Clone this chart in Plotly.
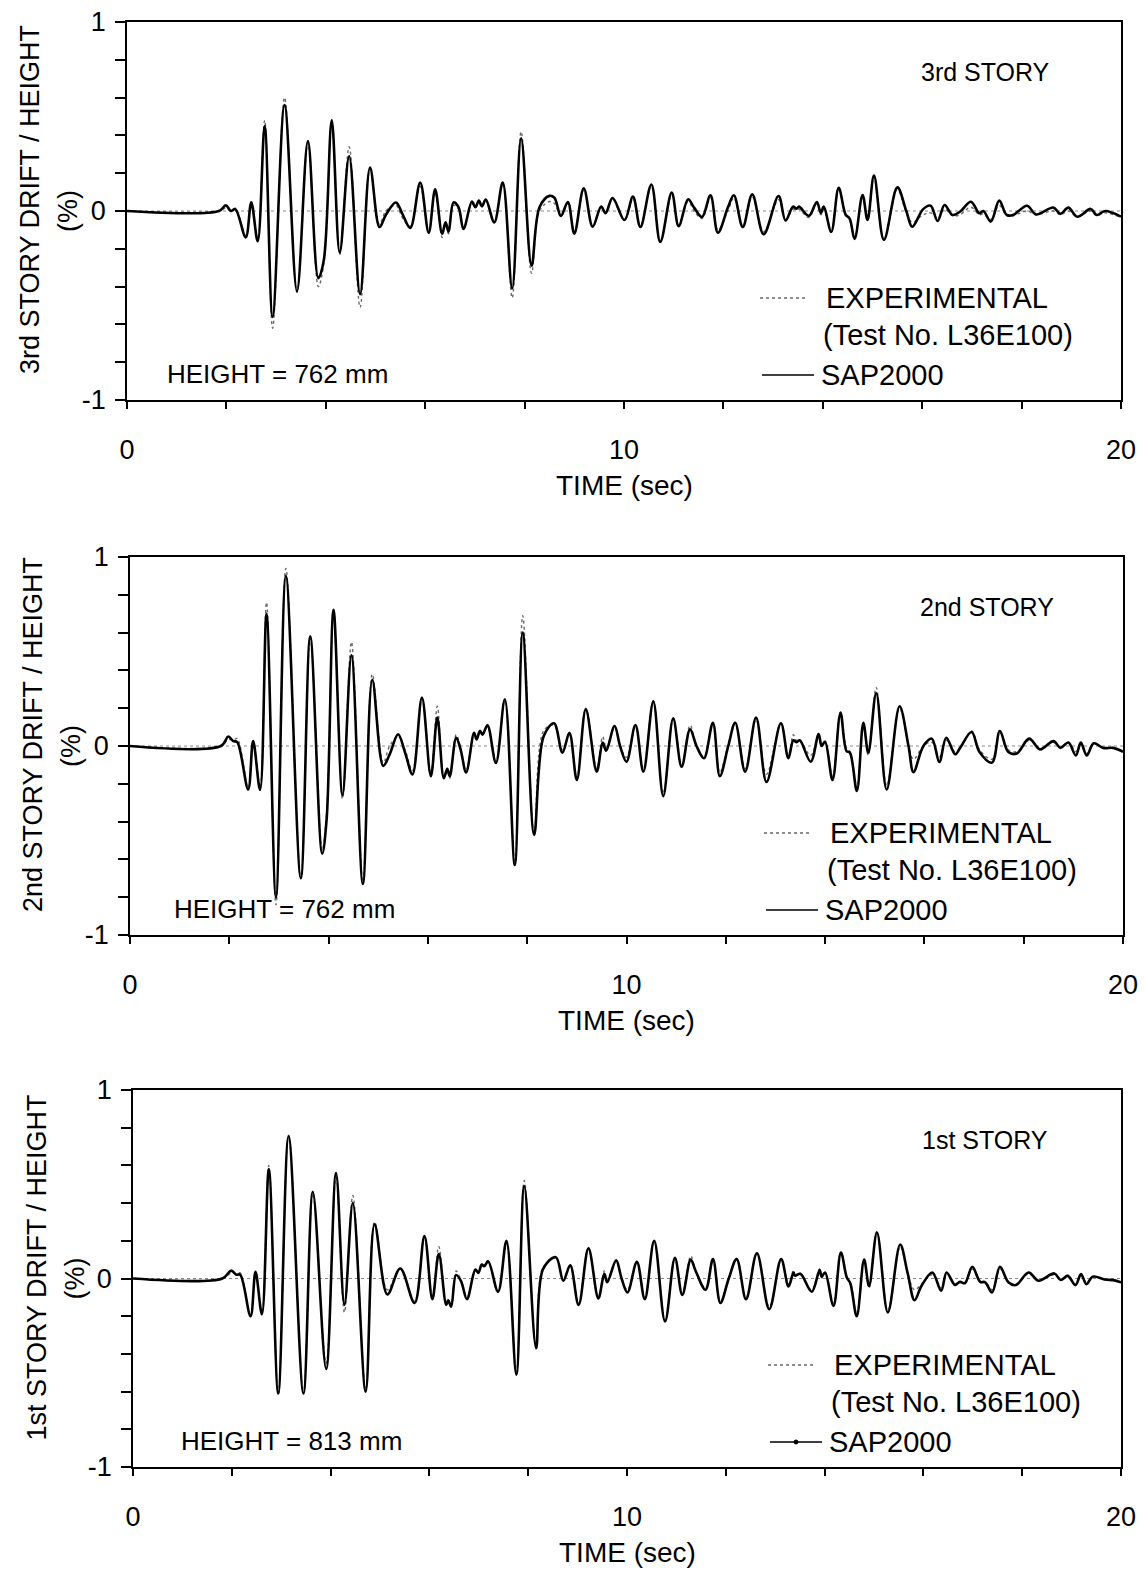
import plotly.graph_objects as go

# ---------------- data ----------------
# 3rd story
t3 = [0, 1.85, 1.99, 2.09, 2.18, 2.39, 2.50, 2.63, 2.77, 2.93,
      3.17, 3.42, 3.64, 3.85, 3.96, 4.12, 4.28, 4.47, 4.69, 4.89,
      5.08, 5.21, 5.41, 5.55, 5.70, 5.90, 6.07, 6.20, 6.34, 6.41,
      6.47, 6.57, 6.67, 6.77, 6.94, 7.01, 7.08, 7.14, 7.22, 7.39,
      7.56, 7.75, 7.93, 8.14, 8.30, 8.50, 8.60, 8.73, 8.87, 9.00,
      9.19, 9.37, 9.54, 9.63, 9.77, 10.01, 10.18, 10.33, 10.55, 10.73,
      10.96, 11.10, 11.29, 11.41, 11.57, 11.74, 11.89, 12.09, 12.21, 12.39,
      12.58, 12.81, 13.11, 13.25, 13.40, 13.47, 13.52, 13.72, 13.88, 13.96,
      14.02, 14.17, 14.32, 14.46, 14.54, 14.64, 14.80, 14.90, 15.03, 15.23,
      15.50, 15.68, 15.80, 16.02, 16.17, 16.31, 16.45, 16.61, 16.76, 16.98,
      17.15, 17.23, 17.38, 17.55, 17.70, 17.83, 18.11, 18.29, 18.64, 18.78,
      18.94, 19.12, 19.39, 19.51, 19.68, 20.0]
sap3 = [0, 0, 0.03, 0.0, 0.01, -0.14, 0.045, -0.16, 0.45, -0.56,
        0.56, -0.425, 0.37, -0.355, -0.26, 0.48, -0.22, 0.29, -0.44, 0.23,
        -0.085, -0.02, 0.045, -0.02, -0.09, 0.15, -0.115, 0.115, -0.12, -0.06,
        -0.11, 0.045, 0.02, -0.095, 0.05, 0.02, 0.055, 0.025, 0.06, -0.06,
        0.15, -0.41, 0.385, -0.29, 0.02, 0.08, 0.07, -0.026, 0.048, -0.12,
        0.12, -0.083, 0.023, -0.012, 0.069, -0.048, 0.076, -0.085, 0.14, -0.164,
        0.097, -0.08, 0.062, 0.018, -0.032, 0.083, -0.115, 0.018, 0.083, -0.085,
        0.088, -0.123, 0.079, -0.05, 0.023, 0.012, 0.023, -0.026, 0.048, -0.01,
        0.023, -0.11, 0.123, -0.02, -0.04, -0.148, 0.085, -0.048, 0.187, -0.153,
        0.125, 0.0, -0.083, 0.01, 0.028, -0.053, 0.032, -0.021, -0.004, 0.049,
        -0.012, 0.0, -0.056, 0.055, -0.021, -0.021, 0.028, -0.018, 0.018, -0.015,
        0.018, -0.03, 0.011, -0.021, 0.0, -0.03]
exp3 = [0, 0, 0.015, 0.0, 0.015, -0.13, 0.05, -0.15, 0.48, -0.62,
        0.60, -0.43, 0.36, -0.40, -0.28, 0.47, -0.23, 0.34, -0.51, 0.22,
        -0.07, 0.0, 0.03, -0.04, -0.08, 0.13, -0.11, 0.10, -0.14, -0.07,
        -0.12, 0.03, 0.01, -0.09, 0.04, 0.02, 0.05, 0.03, 0.055, -0.06,
        0.15, -0.46, 0.42, -0.33, 0.0, 0.05, 0.04, -0.03, 0.04, -0.11,
        0.11, -0.08, 0.02, -0.01, 0.06, -0.05, 0.065, -0.08, 0.13, -0.16,
        0.085, -0.075, 0.05, 0.0, -0.04, 0.07, -0.10, 0.0, 0.07, -0.08,
        0.075, -0.11, 0.06, -0.05, 0.01, 0.005, 0.01, -0.035, 0.04, -0.02,
        0.01, -0.11, 0.12, -0.02, -0.045, -0.14, 0.08, -0.05, 0.18, -0.15,
        0.115, -0.01, -0.06, -0.02, -0.01, -0.04, 0.01, -0.025, -0.02, 0.02,
        -0.02, -0.015, -0.045, 0.03, -0.025, -0.025, 0.0, -0.02, 0.0, -0.02,
        0.0, -0.03, 0.0, -0.025, -0.01, -0.035]

# 2nd story
t2 = [0, 1.83, 1.98, 2.08, 2.16, 2.38, 2.48, 2.62, 2.75, 2.94,
      3.14, 3.44, 3.63, 3.87, 3.96, 4.10, 4.28, 4.46, 4.69, 4.88,
      5.10, 5.23, 5.40, 5.54, 5.69, 5.88, 6.06, 6.19, 6.32, 6.39,
      6.44, 6.57, 6.66, 6.77, 6.93, 6.98, 7.05, 7.10, 7.20, 7.37,
      7.55, 7.75, 7.91, 8.14, 8.33, 8.54, 8.71, 8.85, 9.00, 9.18,
      9.40, 9.52, 9.59, 9.76, 9.87, 10.00, 10.18, 10.34, 10.54, 10.74,
      10.94, 11.11, 11.28, 11.41, 11.56, 11.74, 11.88, 12.05, 12.19, 12.39,
      12.61, 12.82, 13.11, 13.26, 13.36, 13.42, 13.49, 13.71, 13.87, 13.93,
      14.00, 14.15, 14.31, 14.43, 14.50, 14.64, 14.77, 14.87, 15.03, 15.24,
      15.50, 15.68, 15.78, 15.98, 16.15, 16.30, 16.44, 16.62, 16.72, 16.95,
      17.11, 17.36, 17.52, 17.69, 17.86, 18.11, 18.33, 18.60, 18.74, 18.90,
      19.05, 19.15, 19.27, 19.41, 19.60, 19.80, 20.0]
sap2 = [0, 0, 0.05, 0.026, 0.02, -0.23, 0.026, -0.233, 0.70, -0.80,
        0.90, -0.70, 0.58, -0.57, -0.39, 0.72, -0.26, 0.48, -0.73, 0.35,
        -0.105, -0.044, 0.062, -0.035, -0.15, 0.256, -0.16, 0.15, -0.17, -0.12,
        -0.16, 0.044, -0.02, -0.14, 0.07, 0.035, 0.08, 0.06, 0.11, -0.09,
        0.247, -0.63, 0.60, -0.47, 0.05, 0.12, -0.035, 0.07, -0.18, 0.194,
        -0.136, 0.018, -0.025, 0.106, 0.0, -0.083, 0.111, -0.136, 0.235, -0.265,
        0.146, -0.11, 0.088, 0.0, -0.065, 0.123, -0.16, 0.0, 0.123, -0.136,
        0.15, -0.19, 0.12, -0.065, 0.03, 0.02, 0.03, -0.083, 0.063, 0.0,
        0.023, -0.18, 0.176, -0.026, -0.035, -0.238, 0.123, -0.035, 0.28, -0.23,
        0.21, 0.0, -0.138, 0.0, 0.039, -0.085, 0.044, -0.044, -0.01, 0.074,
        -0.032, -0.088, 0.079, -0.032, -0.04, 0.039, -0.018, 0.026, -0.01, 0.018,
        -0.05, 0.018, -0.05, 0.014, -0.01, -0.01, -0.03]
exp2 = [0, 0, 0.035, 0.03, 0.04, -0.22, 0.03, -0.22, 0.76, -0.84,
        0.94, -0.70, 0.57, -0.55, -0.35, 0.71, -0.28, 0.55, -0.72, 0.38,
        -0.09, 0.0, 0.05, -0.02, -0.13, 0.25, -0.15, 0.21, -0.17, -0.13,
        -0.17, 0.06, -0.01, -0.13, 0.07, 0.04, 0.07, 0.06, 0.10, -0.08,
        0.24, -0.62, 0.69, -0.46, 0.08, 0.11, -0.02, 0.06, -0.17, 0.20,
        -0.12, 0.05, -0.01, 0.10, 0.0, -0.06, 0.10, -0.12, 0.24, -0.25,
        0.14, -0.10, 0.11, 0.0, -0.055, 0.12, -0.14, 0.01, 0.12, -0.12,
        0.14, -0.15, 0.12, -0.05, 0.06, 0.03, 0.03, -0.05, 0.06, 0.0,
        0.02, -0.16, 0.18, -0.01, -0.03, -0.22, 0.12, -0.05, 0.31, -0.21,
        0.20, 0.0, -0.07, 0.0, 0.02, -0.06, 0.03, -0.03, -0.01, 0.08,
        -0.02, -0.07, 0.07, -0.02, -0.03, 0.03, -0.01, 0.02, -0.005, 0.02,
        -0.03, 0.02, -0.04, 0.015, -0.01, -0.01, -0.035]

# 1st story
t1 = [0, 1.81, 1.99, 2.09, 2.17, 2.38, 2.48, 2.61, 2.75, 2.94,
      3.15, 3.45, 3.64, 3.91, 4.11, 4.28, 4.45, 4.71, 4.89, 5.15,
      5.41, 5.70, 5.90, 6.06, 6.19, 6.34, 6.38, 6.44, 6.54, 6.64,
      6.76, 6.93, 6.99, 7.06, 7.11, 7.19, 7.39, 7.56, 7.76, 7.92,
      8.16, 8.30, 8.56, 8.71, 8.85, 9.02, 9.22, 9.42, 9.54, 9.60,
      9.78, 9.89, 10.01, 10.20, 10.36, 10.55, 10.77, 10.97, 11.12, 11.29,
      11.39, 11.59, 11.74, 11.89, 12.06, 12.22, 12.41, 12.63, 12.88, 13.12,
      13.27, 13.37, 13.40, 13.51, 13.74, 13.90, 13.94, 14.01, 14.18, 14.33,
      14.45, 14.52, 14.65, 14.80, 14.90, 15.06, 15.28, 15.53, 15.68, 15.82,
      15.96, 16.18, 16.36, 16.47, 16.64, 16.74, 16.84, 16.99, 17.15, 17.25,
      17.39, 17.55, 17.72, 17.87, 18.13, 18.33, 18.65, 18.78, 18.92, 19.08,
      19.19, 19.30, 19.43, 19.67, 19.87, 20.0]
sap1 = [0, 0, 0.042, 0.02, 0.02, -0.20, 0.035, -0.19, 0.58, -0.61,
        0.755, -0.61, 0.46, -0.48, 0.56, -0.14, 0.40, -0.60, 0.287, -0.085,
        0.053, -0.13, 0.225, -0.11, 0.13, -0.14, -0.115, -0.15, 0.018, -0.014,
        -0.11, 0.048, 0.03, 0.074, 0.065, 0.092, -0.07, 0.20, -0.51, 0.49,
        -0.37, 0.05, 0.113, -0.012, 0.07, -0.14, 0.16, -0.106, 0.025, -0.02,
        0.096, 0.0, -0.074, 0.088, -0.11, 0.20, -0.228, 0.11, -0.087, 0.10,
        0.04, -0.06, 0.103, -0.13, 0.0, 0.103, -0.11, 0.134, -0.163, 0.103,
        -0.042, 0.032, 0.015, 0.025, -0.07, 0.046, 0.01, 0.032, -0.145, 0.138,
        0.005, -0.025, -0.20, 0.10, -0.04, 0.244, -0.18, 0.18, 0.03, -0.115,
        -0.04, 0.032, -0.065, 0.032, -0.034, -0.018, -0.025, 0.062, -0.018, -0.02,
        -0.074, 0.062, -0.02, -0.035, 0.032, -0.012, 0.027, -0.008, 0.014, -0.035,
        0.023, -0.03, 0.01, -0.005, -0.01, -0.02]
exp1 = [0, 0, 0.03, 0.025, 0.03, -0.19, 0.04, -0.18, 0.60, -0.62,
        0.76, -0.61, 0.45, -0.45, 0.55, -0.18, 0.44, -0.59, 0.30, -0.06,
        0.05, -0.12, 0.22, -0.10, 0.17, -0.14, -0.12, -0.14, 0.04, -0.01,
        -0.10, 0.04, 0.03, 0.07, 0.07, 0.09, -0.07, 0.20, -0.50, 0.52,
        -0.37, 0.06, 0.11, -0.01, 0.07, -0.13, 0.16, -0.10, 0.04, -0.01,
        0.09, 0.0, -0.06, 0.08, -0.10, 0.20, -0.22, 0.10, -0.08, 0.12,
        0.04, -0.05, 0.10, -0.12, 0.0, 0.10, -0.10, 0.13, -0.15, 0.10,
        -0.03, 0.045, 0.02, 0.02, -0.06, 0.05, 0.0, 0.03, -0.13, 0.14,
        0.0, -0.02, -0.19, 0.10, -0.05, 0.25, -0.17, 0.17, 0.03, -0.06,
        -0.03, 0.02, -0.05, 0.025, -0.025, -0.02, -0.02, 0.05, -0.015, -0.015,
        -0.06, 0.05, -0.015, -0.03, 0.025, -0.01, 0.02, -0.005, 0.018, -0.03,
        0.02, -0.02, 0.01, -0.005, -0.01, -0.025]

story_names = ["3rd", "2nd", "1st"]
heights = ["762", "762", "813"]
x_ticks = [0, 10, 20]
x_minor = [2, 4, 6, 8, 12, 14, 16, 18]
y_ticks = [-1, 0, 1]
y_ticktext = ["-1", "0", "1"]

# ---------------- layout helpers ----------------
W, H = 1146, 1570
FONT = "Liberation Sans, Arial, sans-serif"


def fx(x):
    return x / W


def fy(y):
    return 1 - y / H


# pixel boxes of the three plot areas: (left, right, top, bottom)
boxes = [(127, 1121, 22, 400), (130, 1123, 557, 935), (133, 1121, 1090, 1467)]
series = [(t3, sap3, exp3), (t2, sap2, exp2), (t1, sap1, exp1)]

fig = go.Figure()
annotations = []
shapes = []

for i, ((t, sap, exp), (L, R, T, B)) in enumerate(zip(series, boxes)):
    xa = "x" if i == 0 else f"x{i+1}"
    ya = "y" if i == 0 else f"y{i+1}"
    fig.add_trace(go.Scatter(x=t, y=exp, mode="lines", xaxis=xa, yaxis=ya,
                             line=dict(color="#6a6a6a", width=1.4, dash="dot",
                                       shape="spline", smoothing=1.0),
                             name="EXPERIMENTAL", showlegend=False))
    fig.add_trace(go.Scatter(x=t, y=sap, mode="lines", xaxis=xa, yaxis=ya,
                             line=dict(color="black", width=2.6,
                                       shape="spline", smoothing=1.0),
                             name="SAP2000", showlegend=False))
    xname = "xaxis" if i == 0 else f"xaxis{i+1}"
    yname = "yaxis" if i == 0 else f"yaxis{i+1}"
    fig.layout[xname] = dict(
        domain=[fx(L), fx(R)], anchor=ya, range=[0, 20], automargin=False,
        tickmode="array", tickvals=x_ticks, ticks="outside", ticklen=7,
        tickwidth=1.5, tickcolor="black",
        minor=dict(tickmode="array", tickvals=x_minor, ticks="outside",
                   ticklen=7, tickwidth=1.5, tickcolor="black"),
        showline=True, linecolor="black", linewidth=1.6, mirror=True,
        showgrid=False, zeroline=False,
        tickfont=dict(size=27, color="black", family=FONT),
        ticklabelstandoff=18)
    fig.layout[yname] = dict(
        domain=[fy(B), fy(T)], anchor=xa, range=[-1, 1], automargin=False,
        tickmode="array", tickvals=y_ticks, ticktext=y_ticktext,
        ticks="outside", ticklen=10, tickwidth=1.5, tickcolor="black",
        minor=dict(dtick=0.2, tick0=0, ticks="outside", ticklen=10,
                   tickwidth=1.5, tickcolor="black"),
        showline=True, linecolor="black", linewidth=1.6, mirror=True,
        showgrid=False, zeroline=False,
        tickfont=dict(size=27, color="black", family=FONT),
        ticklabelstandoff=4)

    # dotted zero reference line
    shapes.append(dict(type="line", xref=xa, yref=ya, x0=0, x1=20, y0=0, y1=0,
                       line=dict(color="#8a8a8a", width=1, dash="dot"), layer="below"))

    cy = (T + B) / 2
    # y-axis title (two lines)
    annotations.append(dict(x=fx(L - 97), y=fy(cy - 11), xref="paper", yref="paper",
                            text=f"{story_names[i]} STORY DRIFT / HEIGHT", textangle=-90,
                            showarrow=False, xanchor="center", yanchor="middle",
                            font=dict(size=27)))
    annotations.append(dict(x=fx(L - 59), y=fy(cy), xref="paper", yref="paper",
                            text="(%)", textangle=-90, showarrow=False,
                            xanchor="center", yanchor="middle", font=dict(size=27)))
    # x-axis title
    annotations.append(dict(x=fx((L + R) / 2), y=fy(B + 85), xref="paper", yref="paper",
                            text="TIME (sec)", showarrow=False, xanchor="center",
                            yanchor="middle", font=dict(size=28)))
    # story label
    annotations.append(dict(x=fx(R - 136), y=fy(T + 50), xref="paper", yref="paper",
                            text=f"{story_names[i]} STORY", showarrow=False,
                            xanchor="center", yanchor="middle", font=dict(size=25)))
    # height label
    annotations.append(dict(x=fx(L + 38 + 4 * i), y=fy(B - 26), xref="paper", yref="paper",
                            text=f"HEIGHT = {heights[i]} mm", showarrow=False,
                            xanchor="left", yanchor="middle", font=dict(size=26)))
    # legend block
    lx = 760 + 4 * i
    ly1, ly2, ly3 = B - 102, B - 65, B - 25
    shapes.append(dict(type="line", xref="paper", yref="paper",
                       x0=fx(lx), x1=fx(lx + 48), y0=fy(ly1), y1=fy(ly1),
                       line=dict(color="#6a6a6a", width=1.4, dash="dot")))
    shapes.append(dict(type="line", xref="paper", yref="paper",
                       x0=fx(lx + 2), x1=fx(lx + 54), y0=fy(ly3), y1=fy(ly3),
                       line=dict(color="black", width=1.6)))
    if i == 2:
        shapes.append(dict(type="circle", xref="paper", yref="paper",
                           x0=fx(lx + 26), x1=fx(lx + 30), y0=fy(ly3 - 2), y1=fy(ly3 + 2),
                           fillcolor="black", line=dict(color="black", width=1)))
    annotations.append(dict(x=fx(lx + 64), y=fy(ly1), xref="paper", yref="paper",
                            text="EXPERIMENTAL", showarrow=False, xanchor="left",
                            yanchor="middle", font=dict(size=29)))
    annotations.append(dict(x=fx(lx + 61), y=fy(ly2), xref="paper", yref="paper",
                            text="(Test No. L36E100)", showarrow=False, xanchor="left",
                            yanchor="middle", font=dict(size=29)))
    annotations.append(dict(x=fx(lx + 59), y=fy(ly3), xref="paper", yref="paper",
                            text="SAP2000", showarrow=False, xanchor="left",
                            yanchor="middle", font=dict(size=29)))

fig.update_layout(
    width=W, height=H,
    margin=dict(l=0, r=0, t=0, b=0),
    paper_bgcolor="white", plot_bgcolor="white",
    font=dict(family=FONT, color="black"),
    showlegend=False,
    annotations=annotations, shapes=shapes,
)

# remove the default 8px page margin so the figure fills the window exactly
fig.write_html("out.html",
               config=dict(displayModeBar=False),
               post_script="document.body.style.margin='0px';document.body.style.overflow='hidden';")
